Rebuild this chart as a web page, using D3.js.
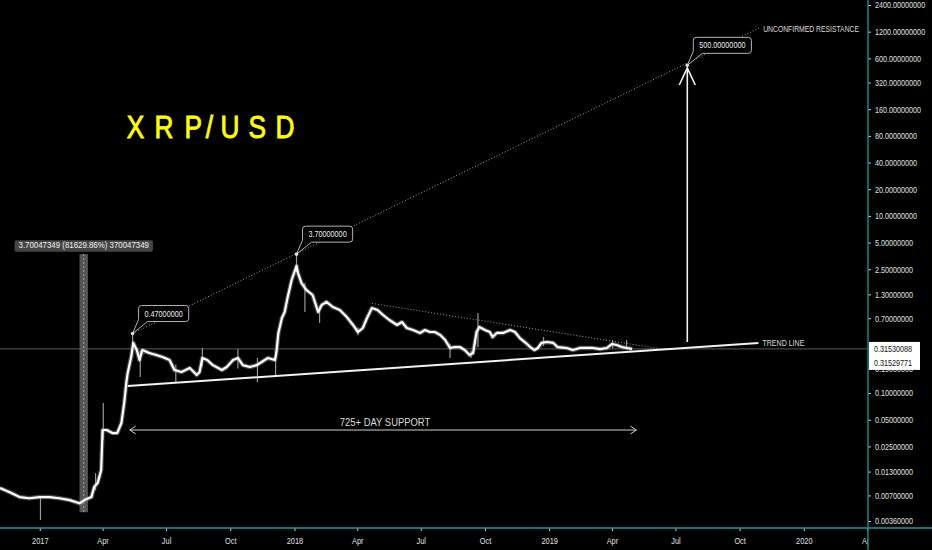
<!DOCTYPE html>
<html><head><meta charset="utf-8">
<script src="https://cdn.jsdelivr.net/npm/d3@7"></script>
<style>
html,body{margin:0;padding:0;background:#000;}
svg{display:block;}
text{font-family:"Liberation Sans",Arial,sans-serif;}
</style></head><body>
<svg id="c" width="932" height="550"></svg>
<script>
// ---------------- DATA ----------------
const dates = ["2016-11-05","2016-11-19","2016-12-03","2016-12-17","2017-01-01","2017-01-15","2017-01-29","2017-02-13","2017-02-27","2017-03-06","2017-03-16","2017-03-20","2017-03-25","2017-03-30","2017-04-01","2017-04-07","2017-04-15","2017-04-22","2017-04-28","2017-05-02","2017-05-05","2017-05-07","2017-05-12","2017-05-15","2017-05-20","2017-05-24","2017-05-28","2017-06-07","2017-06-17","2017-06-26","2017-07-06","2017-07-13","2017-07-23","2017-08-04","2017-08-14","2017-08-18","2017-08-22","2017-08-29","2017-09-06","2017-09-19","2017-09-26","2017-10-05","2017-10-12","2017-10-19","2017-10-29","2017-11-08","2017-11-15","2017-11-24","2017-12-04","2017-12-06","2017-12-09","2017-12-14","2017-12-18","2017-12-22","2017-12-28","2018-01-04","2018-01-06","2018-01-11","2018-01-18","2018-01-27","2018-02-04","2018-02-09","2018-02-16","2018-02-25","2018-03-07","2018-03-17","2018-03-26","2018-04-02","2018-04-09","2018-04-15","2018-04-22","2018-04-30","2018-05-08","2018-05-17","2018-05-28","2018-06-04","2018-06-11","2018-06-20","2018-06-30","2018-07-07","2018-07-14","2018-07-21","2018-07-29","2018-08-05","2018-08-12","2018-08-19","2018-08-26","2018-09-02","2018-09-09","2018-09-14","2018-09-19","2018-09-23","2018-10-01","2018-10-08","2018-10-12","2018-10-18","2018-10-27","2018-11-06","2018-11-13","2018-11-20","2018-11-27","2018-12-05","2018-12-11","2018-12-16","2018-12-21","2018-12-29","2019-01-07","2019-01-13","2019-01-26","2019-02-04","2019-02-14","2019-02-24","2019-03-05","2019-03-15","2019-03-25","2019-04-01","2019-04-08","2019-04-15","2019-04-22","2019-04-30"];
const closes = [0.0085,0.0076,0.0067,0.0065,0.0067,0.0067,0.0065,0.0062,0.0057,0.0062,0.0067,0.0087,0.0097,0.0135,0.0383,0.0383,0.0354,0.0354,0.0460,0.0773,0.130,0.169,0.255,0.368,0.306,0.236,0.306,0.283,0.269,0.255,0.236,0.182,0.173,0.192,0.160,0.173,0.249,0.236,0.207,0.182,0.197,0.236,0.249,0.207,0.197,0.207,0.224,0.249,0.236,0.283,0.477,0.704,0.823,1.18,1.89,2.72,2.27,1.75,1.46,1.28,0.823,0.987,1.07,0.937,0.866,0.722,0.587,0.489,0.543,0.704,0.912,0.866,0.761,0.668,0.587,0.634,0.543,0.515,0.477,0.515,0.489,0.489,0.452,0.397,0.323,0.331,0.331,0.306,0.269,0.283,0.489,0.557,0.515,0.489,0.429,0.477,0.477,0.515,0.489,0.418,0.377,0.331,0.306,0.323,0.368,0.377,0.368,0.331,0.323,0.306,0.323,0.323,0.323,0.314,0.323,0.358,0.349,0.331,0.323,0.3153];

const wickDates = ["2017-01-02","2017-03-22","2017-04-02","2017-05-14","2017-05-25","2017-07-15","2017-08-22","2017-10-12","2017-11-09","2017-12-05","2018-01-04","2018-01-16","2018-02-06","2018-04-02","2018-08-12","2018-09-11","2018-09-21","2018-12-24","2019-04-02","2019-04-22"];
const wickHighs = [0.0069,0.0125,0.0773,0.47,0.30,0.21,0.323,0.314,0.25,0.25,3.70,1.75,0.95,0.55,0.36,0.30,0.80,0.43,0.397,0.397];
const wickLows  = [0.0037,0.0080,0.0300,0.32,0.152,0.133,0.20,0.19,0.133,0.160,2.30,0.82,0.62,0.45,0.249,0.249,0.33,0.34,0.32,0.31];

const yTicks = [2400,1200,600,320,160,80,40,20,10,5,2.5,1.3,0.7,0.19,0.1,0.05,0.025,0.013,0.007,0.0036];
const xTickDates = ["2017-01-01","2017-04-01","2017-07-01","2017-10-01","2018-01-01","2018-04-01","2018-07-01","2018-10-01","2019-01-01","2019-04-01","2019-07-01","2019-10-01","2020-01-01","2020-04-01"];
const xTickLabels = ["2017","Apr","Jul","Oct","2018","Apr","Jul","Oct","2019","Apr","Jul","Oct","2020","Apr"];

const lastPrices = [0.31530088, 0.31529771];
const titleChars = ["X","R","P","/","U","S","D"];

const trendLine = [["2017-05-07",0.1202],["2019-10-28",0.3675]];
const trendLabel = "TREND LINE";
const resistanceLine = [["2017-05-14",0.47],["2019-10-29",1320]];
const resistanceLabel = "UNCONFIRMED RESISTANCE";
const descLine = [["2018-04-22",1.03],["2019-06-12",0.3144]];
const calloutDates = ["2017-05-14","2018-01-04","2019-07-18"];
const calloutPrices = [0.47, 3.70, 500];
const calloutLabels = ["0.47000000","3.70000000","500.00000000"];
const supportArrow = [["2017-05-10",0.0383],["2019-05-06",0.0383]];
const supportLabel = "725+ DAY SUPPORT";
const targetArrow = [["2019-07-18",0.377],["2019-07-18",467]];
const rangeDates = ["2017-02-27","2017-03-11"];
const rangePrices = [0.004528, 3.70047349];
const rangeLabel = "3.70047349 (81629.86%) 370047349";

// ---------------- CHART ----------------
const W = 932, H = 550, axisX = 868, axisY = 528;
const teal = "#139c9c";
const NARROW = 0.82;
const parse = d3.utcParse("%Y-%m-%d");
const svg = d3.select("#c");
svg.append("rect").attr("width",W).attr("height",H).attr("fill","#000");

function condense(sel, f){
  sel.each(function(){
    const l = this.getComputedTextLength();
    d3.select(this).attr("textLength", l*f).attr("lengthAdjust","spacingAndGlyphs");
  });
  return sel;
}

const x = d3.scaleUtc().domain([parse("2016-11-05"), parse("2020-04-02")]).range([0, axisX]);
const y = d3.scaleLog().domain([0.0036, 2400]).range([521, 5]);

const defs = svg.append("defs");
defs.append("clipPath").attr("id","plotclip").append("rect").attr("x",0).attr("y",0).attr("width",axisX).attr("height",H);

const plot = svg.append("g").attr("clip-path","url(#plotclip)");

// last price horizontal line
plot.append("line").attr("x1",0).attr("x2",axisX).attr("y1",y(lastPrices[0])).attr("y2",y(lastPrices[0]))
  .attr("stroke","#5a5a5a").attr("stroke-width",1);

// range bar
const rx0 = x(parse(rangeDates[0])), rx1 = x(parse(rangeDates[1]));
plot.append("rect").attr("x",rx0).attr("width",rx1-rx0).attr("y",y(rangePrices[1])).attr("height",y(rangePrices[0])-y(rangePrices[1]))
  .attr("fill","#5e5e5e").attr("opacity",0.9);
plot.append("line").attr("x1",(rx0+rx1)/2).attr("x2",(rx0+rx1)/2).attr("y1",y(rangePrices[1])).attr("y2",y(rangePrices[0]))
  .attr("stroke","#a8a8a8").attr("stroke-dasharray","2,2").attr("stroke-width",1);
const rlab = plot.append("g");
const rlt = rlab.append("text").attr("x",(rx0+rx1)/2).attr("y",y(rangePrices[1])-6.5).attr("text-anchor","middle")
  .attr("font-size",9.6).attr("fill","#f0f0f0").text(rangeLabel);
condense(rlt, NARROW);
const rw = +rlt.attr("textLength");
rlab.insert("rect","text").attr("x",(rx0+rx1)/2 - rw/2 - 4).attr("y",y(rangePrices[1])-14).attr("width",rw+8).attr("height",11.5)
  .attr("rx",2).attr("fill","#454545");

// price series
const pts = dates.map((d,i)=>({d:parse(d), v:closes[i]}));
const line = d3.line().x(p=>x(p.d)).y(p=>y(p.v));
plot.append("path").datum(pts).attr("d",line).attr("fill","none").attr("stroke","#7a7a7a").attr("stroke-width",4.5).attr("stroke-linejoin","round").attr("opacity",0.6);
plot.selectAll(".wick").data(wickDates).enter().append("line")
  .attr("x1",(d)=>x(parse(d))).attr("x2",(d)=>x(parse(d)))
  .attr("y1",(d,i)=>y(wickHighs[i])).attr("y2",(d,i)=>y(wickLows[i]))
  .attr("stroke","#9a9a9a").attr("stroke-width",1.2);
plot.append("path").datum(pts).attr("d",line).attr("fill","none").attr("stroke","#ffffff").attr("stroke-width",2.2).attr("stroke-linejoin","round");

// helper
const P = (a)=>[x(parse(a[0])), y(a[1])];

// trend line
const t0 = P(trendLine[0]), t1 = P(trendLine[1]);
plot.append("line").attr("x1",t0[0]).attr("y1",t0[1]).attr("x2",t1[0]).attr("y2",t1[1]).attr("stroke","#f2f2f2").attr("stroke-width",2);
condense(svg.append("text").attr("x",t1[0]+4).attr("y",t1[1]).attr("dy","0.35em").attr("font-size",8.6).attr("fill","#dcdcdc").text(trendLabel), NARROW);

// resistance line
const r0 = P(resistanceLine[0]), r1 = P(resistanceLine[1]);
plot.append("line").attr("x1",r0[0]).attr("y1",r0[1]).attr("x2",r1[0]).attr("y2",r1[1]).attr("stroke","#a0a0a0").attr("stroke-width",1).attr("stroke-dasharray","1,2");
condense(svg.append("text").attr("x",r1[0]+4).attr("y",r1[1]+1).attr("dy","0.35em").attr("font-size",8.3).attr("fill","#dcdcdc").text(resistanceLabel), NARROW);

// descending line
const d0 = P(descLine[0]), d1 = P(descLine[1]);
plot.append("line").attr("x1",d0[0]).attr("y1",d0[1]).attr("x2",d1[0]).attr("y2",d1[1]).attr("stroke","#a0a0a0").attr("stroke-width",1).attr("stroke-dasharray","1,2");

// target arrow
const a0 = P(targetArrow[0]), a1 = P(targetArrow[1]);
plot.append("line").attr("x1",a0[0]).attr("y1",a0[1]).attr("x2",a1[0]).attr("y2",a1[1]).attr("stroke","#f2f2f2").attr("stroke-width",1.6);
plot.append("path").attr("d",`M${a1[0]-8},${a1[1]+17}L${a1[0]},${a1[1]}L${a1[0]+8},${a1[1]+17}`).attr("fill","none").attr("stroke","#f2f2f2").attr("stroke-width",1.6);

// support arrow
const s0 = P(supportArrow[0]), s1 = P(supportArrow[1]);
plot.append("line").attr("x1",s0[0]).attr("y1",s0[1]).attr("x2",s1[0]).attr("y2",s1[1]).attr("stroke","#cfcfcf").attr("stroke-width",1);
plot.append("path").attr("d",`M${s0[0]+6},${s0[1]-4}L${s0[0]},${s0[1]}L${s0[0]+6},${s0[1]+4}M${s1[0]-6},${s1[1]-4}L${s1[0]},${s1[1]}L${s1[0]-6},${s1[1]+4}`)
  .attr("fill","none").attr("stroke","#cfcfcf").attr("stroke-width",1);
condense(svg.append("text").attr("x",(s0[0]+s1[0])/2+2).attr("y",s0[1]-4.5).attr("text-anchor","middle").attr("font-size",11.5).attr("fill","#dcdcdc").text(supportLabel), NARROW);

// callouts
calloutDates.forEach((dt,i)=>{
  const ax = x(parse(dt)), ay = y(calloutPrices[i]);
  const g = svg.append("g");
  const txt = g.append("text").attr("font-size",8.8).attr("fill","#f0f0f0").attr("text-anchor","middle").text(calloutLabels[i]);
  condense(txt, NARROW);
  const w = +txt.attr("textLength") + 12;
  const L = ax+6, R = L+w, T = ay-28, B = ay-12, rr = 3;
  g.insert("path","text").attr("d",
    `M${ax},${ay}L${L+9},${B}L${R-rr},${B}Q${R},${B} ${R},${B-rr}L${R},${T+rr}Q${R},${T} ${R-rr},${T}L${L+rr},${T}Q${L},${T} ${L},${T+rr}L${L},${B-2}Z`)
    .attr("fill","#000").attr("stroke","#b4b4b4").attr("stroke-width",1);
  txt.attr("x",(L+R)/2).attr("y",(T+B)/2).attr("dy","0.35em");
  g.append("circle").attr("cx",ax).attr("cy",ay).attr("r",1.8).attr("fill","#e0e0e0");
});

// title (narrow glyphs via horizontal scale)
const tx = [126.7,154.6,184.6,205.7,220.6,248.5,275.6];
const tg = svg.append("g").attr("transform",`scale(${NARROW},1)`);
tg.selectAll("text.t").data(titleChars).enter().append("text")
  .attr("x",(c,i)=>tx[i]/NARROW).attr("y",138).attr("font-size",32).attr("fill","#ffff00")
  .attr("stroke","#ffff00").attr("stroke-width",0.9).text(c=>c);

// ---------------- AXES ----------------
// right axis
const ra = svg.append("g").attr("transform",`translate(${axisX},0)`)
  .call(d3.axisRight(y).tickValues(yTicks).tickFormat(d=>d.toFixed(8)).tickSize(3).tickSizeOuter(0).tickPadding(4));
ra.select(".domain").remove();
ra.selectAll(".tick line").attr("stroke","#cfcfcf");
ra.selectAll(".tick text").attr("fill","#e0e0e0").attr("font-size",8.8).attr("font-family",null);
condense(ra.selectAll(".tick text"), NARROW);

// bottom axis
const xb = svg.append("g").attr("clip-path","url(#plotclip)");
const ba = xb.append("g").attr("transform",`translate(0,${axisY})`)
  .call(d3.axisBottom(x).tickValues(xTickDates.map(parse)).tickFormat((d,i)=>xTickLabels[i]).tickSize(3).tickSizeOuter(0).tickPadding(6.5));
ba.select(".domain").remove();
ba.selectAll(".tick line").attr("stroke","#cfcfcf");
ba.selectAll(".tick text").attr("fill","#e0e0e0").attr("font-size",9).attr("font-family",null);
condense(ba.selectAll(".tick text"), NARROW);

// axis lines
svg.append("line").attr("x1",0).attr("x2",W).attr("y1",axisY).attr("y2",axisY).attr("stroke",teal).attr("stroke-width",1.3);
svg.append("line").attr("x1",axisX).attr("x2",axisX).attr("y1",0).attr("y2",H).attr("stroke",teal).attr("stroke-width",1.3);

// last price labels on axis
const ly0 = y(lastPrices[0]);
svg.append("rect").attr("x",axisX+1).attr("y",ly0-7).attr("width",51).attr("height",28).attr("fill","#ffffff");
lastPrices.forEach((p,i)=>{
  condense(svg.append("text").attr("x",axisX+6).attr("y",ly0+i*14).attr("dy","0.35em").attr("font-size",8.8).attr("fill","#111").text(p.toFixed(8)), NARROW);
});
</script>
</body></html>
